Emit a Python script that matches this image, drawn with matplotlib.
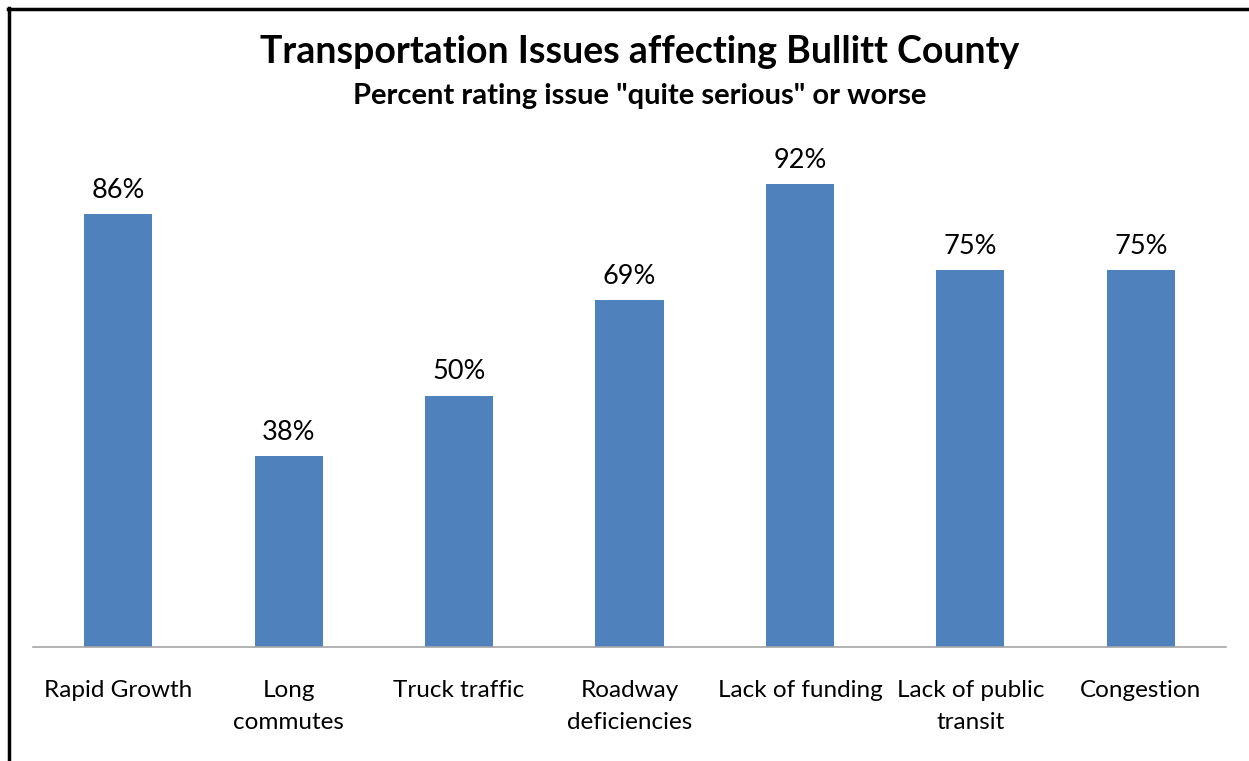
import matplotlib.pyplot as plt
from matplotlib.lines import Line2D

# Datos del grafico
categorias = ['Rapid Growth', 'Long\ncommutes', 'Truck traffic', 'Roadway\ndeficiencies',
              'Lack of funding', 'Lack of public\ntransit', 'Congestion']
valores = [86, 38, 50, 69, 92, 75, 75]
etiquetas = ['86%', '38%', '50%', '69%', '92%', '75%', '75%']

titulo = 'Transportation Issues affecting Bullitt County'
subtitulo = 'Percent rating issue "quite serious" or worse'

plt.rcParams['font.family'] = ['Lato', 'DejaVu Sans']

fig = plt.figure(figsize=(12.49, 7.61), dpi=100)
ax = fig.add_axes([33/1249, 1 - 647/761, (1226 - 33)/1249, 503/761])

x = range(len(categorias))
barras = ax.bar(x, valores, width=0.4, color='#4f81bd')
ax.set_xlim(-0.5, len(categorias) - 0.5)
ax.set_ylim(0, 100)

for b, t in zip(barras, etiquetas):
    ax.annotate(t, (b.get_x() + b.get_width()/2, b.get_height()),
                xytext=(0, 8), textcoords='offset points',
                ha='center', va='bottom', fontsize=19.5)

ax.set_xticks(list(x))
ax.set_xticklabels(categorias, fontsize=17.5, linespacing=1.6)
ax.tick_params(axis='x', length=0, pad=24)
ax.set_yticks([])
for s in ['top', 'right', 'left']:
    ax.spines[s].set_visible(False)
ax.spines['bottom'].set_color('#a6a6a6')
ax.spines['bottom'].set_linewidth(1.2)

fig.text(0.5125, 1 - 52/761, titulo, ha='center', va='center',
         fontsize=27, fontweight='bold')
fig.text(0.5125, 1 - 96/761, subtitulo, ha='center', va='center',
         fontsize=21, fontweight='bold')

# Marco
fig.add_artist(Line2D([8/1249, 1], [1 - 9/761, 1 - 9/761], color='black', lw=2.5,
                      transform=fig.transFigure))
fig.add_artist(Line2D([9/1249, 9/1249], [0, 1 - 8/761], color='black', lw=2.5,
                      transform=fig.transFigure))

fig.savefig('out.png', dpi=100)
